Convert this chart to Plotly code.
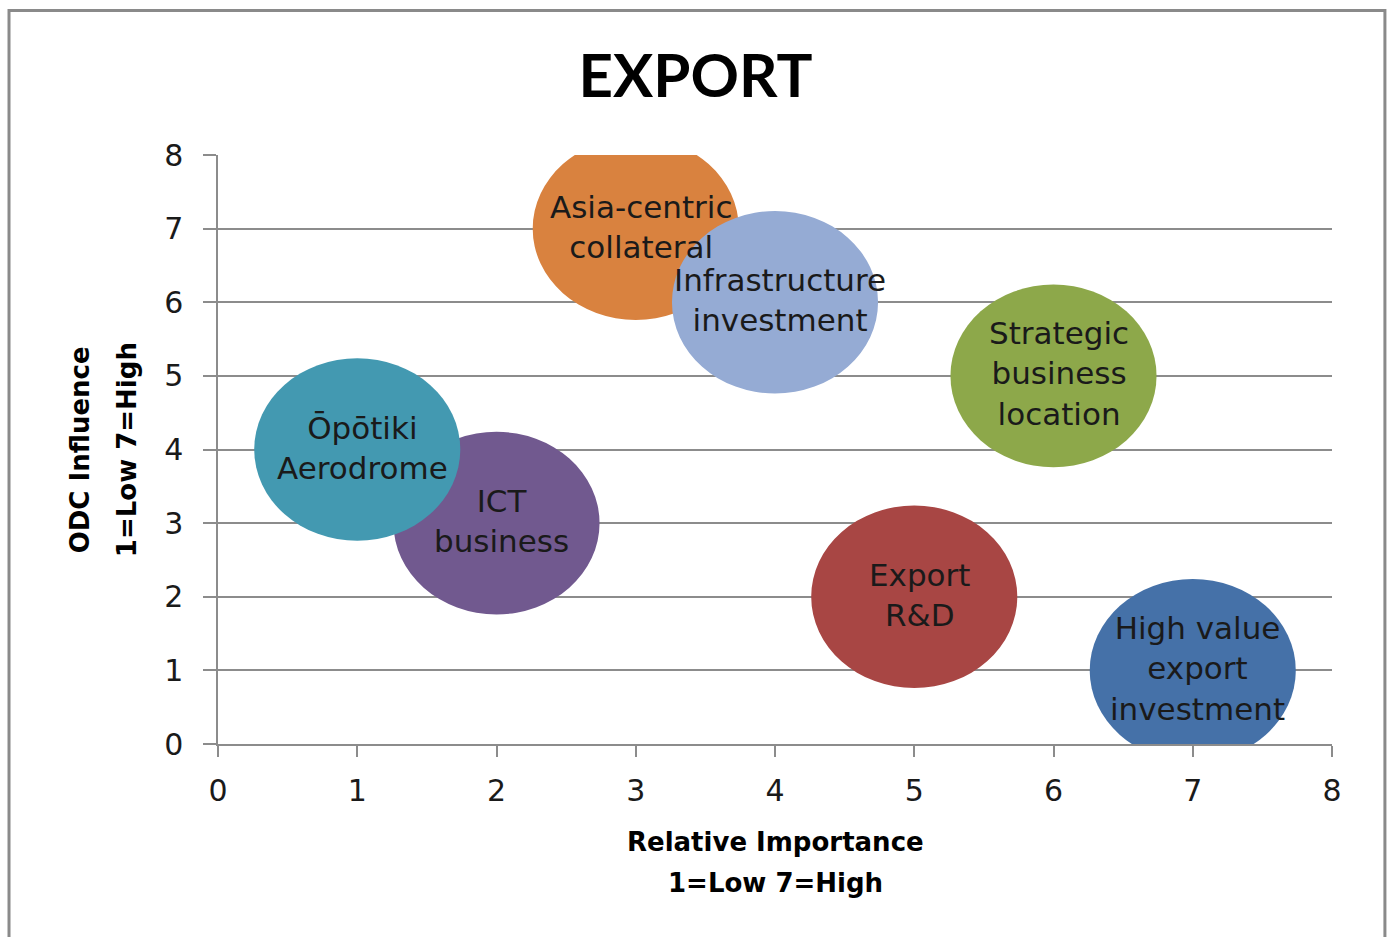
import plotly.graph_objects as go

# Bubble chart data: relative importance (x) vs ODC influence (y)
labels = [
    "Asia-centric<br>collateral",
    "Infrastructure<br>investment",
    "Strategic<br>business<br>location",
    "ICT<br>business",
    "Ōpōtiki<br>Aerodrome",
    "Export<br>R&D",
    "High value<br>export<br>investment",
]
importance = [3, 4, 6, 2, 1, 5, 7]
influence = [7, 6, 5, 3, 4, 2, 1]
colors = ["#D9823F", "#95ABD4", "#8DA84A", "#71598F", "#4399B1", "#A84644", "#4571A8"]

tick_values = [0, 1, 2, 3, 4, 5, 6, 7, 8]

# Bubble half-width / half-height in axis units (all bubbles equal size)
RX = 0.74
RY = 1.24

LABEL_FONT = "DejaVu Sans"
TITLE_FONT = "Lato"
GRID = "#8c8c8c"
TEXT = "#1a1a1a"

fig = go.Figure()

# Invisible trace so the axes are driven by the data
fig.add_trace(go.Scatter(x=importance, y=influence, mode="markers",
                         marker=dict(size=1, opacity=0), hoverinfo="skip",
                         showlegend=False))

shapes = []
for xv, yv, c in zip(importance, influence, colors):
    shapes.append(dict(type="circle", xref="x", yref="y",
                       x0=xv - RX, x1=xv + RX, y0=yv - RY, y1=yv + RY,
                       fillcolor=c, line=dict(width=0), layer="above"))

# Chart frame
shapes.append(dict(type="rect", xref="paper", yref="paper",
                   x0=-0.1876, x1=1.0475, y0=-0.45, y1=1.2455,
                   line=dict(color="#8a8a8a", width=3), fillcolor="rgba(0,0,0,0)",
                   layer="below"))

annotations = []
for lab, xv, yv in zip(labels, importance, influence):
    annotations.append(dict(x=xv, y=yv, xref="x", yref="y", text=lab,
                            showarrow=False, xshift=5, yshift=2,
                            font=dict(family=LABEL_FONT, size=31, color=TEXT),
                            align="center"))

# Axis titles, one annotation per line
axis_title_font = dict(family=LABEL_FONT, size=26, color="black")
x_title_lines = ["<b>Relative Importance</b>", "<b>1=Low 7=High</b>"]
for text, ypos in zip(x_title_lines, [-0.166, -0.236]):
    annotations.append(dict(x=0.5, y=ypos, xref="paper", yref="paper", text=text,
                            showarrow=False, xanchor="center", yanchor="middle",
                            font=axis_title_font))
y_title_lines = ["<b>ODC Influence</b>", "<b>1=Low 7=High</b>"]
for text, xpos in zip(y_title_lines, [-0.124, -0.082]):
    annotations.append(dict(x=xpos, y=0.5, xref="paper", yref="paper", text=text,
                            showarrow=False, xanchor="center", yanchor="middle",
                            textangle=-90, font=axis_title_font))

fig.update_layout(
    width=1391, height=937,
    margin=dict(l=218, r=59, t=155, b=193),
    paper_bgcolor="white", plot_bgcolor="white",
    showlegend=False,
    title=dict(text="<b>EXPORT</b>", x=0.5, xref="container", xanchor="center",
               y=1 - 76 / 937, yanchor="middle",
               font=dict(family=TITLE_FONT, size=60, color="black")),
    shapes=shapes,
    annotations=annotations,
    xaxis=dict(range=[0, 8], tickvals=tick_values, showgrid=False, zeroline=False,
               showline=True, linecolor=GRID, linewidth=1.5,
               ticks="outside", ticklen=11, tickcolor=GRID, tickwidth=1.5,
               ticklabelstandoff=8,
               tickfont=dict(family=LABEL_FONT, size=30, color=TEXT)),
    yaxis=dict(range=[0, 8], tickvals=tick_values, showgrid=True, gridcolor=GRID,
               gridwidth=1.5, zeroline=False,
               showline=True, linecolor=GRID, linewidth=1.5,
               ticks="outside", ticklen=13, tickcolor=GRID, tickwidth=1.5,
               ticklabelstandoff=14,
               tickfont=dict(family=LABEL_FONT, size=30, color=TEXT)),
)

fig.write_html("out.html")
